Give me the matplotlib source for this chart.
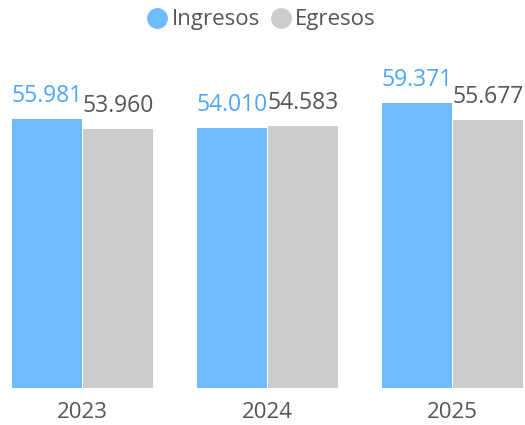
import matplotlib
matplotlib.use("Agg")
import matplotlib.pyplot as plt
from matplotlib.lines import Line2D
import numpy as np

years = ["2023", "2024", "2025"]
ingresos = [55981, 54010, 59371]
egresos = [53960, 54583, 55677]
series_names = ["Ingresos", "Egresos"]

plt.rcParams['font.family'] = ['Open Sans', 'DejaVu Sans']

W, H = 525, 425
fig = plt.figure(figsize=(W/100, H/100), dpi=100)
base_px = 388
top_px = 40
ax = fig.add_axes([0, (H-base_px)/H, 1, (base_px-top_px)/H])

units_per_px = 55981/269
ax.set_ylim(0, (base_px-top_px)*units_per_px)
band = 185.0
ax.set_xlim((0-82.5)/band, (W-82.5)/band)

bw = 70/band
gap = 1/band
x = np.arange(len(years))
blue = "#70BAFF"
gray = "#CCCCCC"
ax.bar(x - bw/2 - gap/2, ingresos, width=bw, color=blue)
ax.bar(x + bw/2 + gap/2, egresos, width=bw, color=gray)

def fmt(v):
    return f"{v:,}".replace(",", ".")

off = 17*units_per_px
for xi, v in zip(x - bw/2 - gap/2, ingresos):
    ax.text(xi, v + off, fmt(v), ha="center", va="baseline", fontsize=16.5, color="#4DA6FF")
for xi, v in zip(x + bw/2 + gap/2, egresos):
    ax.text(xi, v + off, fmt(v), ha="center", va="baseline", fontsize=16.5, color="#555555")

ax.set_xticks(x)
ax.set_xticklabels(years, fontsize=16, color="#555555")
ax.tick_params(axis="x", length=0, pad=10)
ax.set_yticks([])
for s in ax.spines.values():
    s.set_visible(False)

handles = [Line2D([], [], marker="o", linestyle="", markersize=14, color=blue),
           Line2D([], [], marker="o", linestyle="", markersize=14, color=gray)]
fig.legend(handles=handles, labels=series_names, loc="upper center",
           bbox_to_anchor=(0.5, 1.025), ncol=2, frameon=False, fontsize=16,
           handlelength=0.7, handletextpad=0.3, columnspacing=0.6,
           labelcolor="#555555")

fig.savefig("out.png", dpi=100)
